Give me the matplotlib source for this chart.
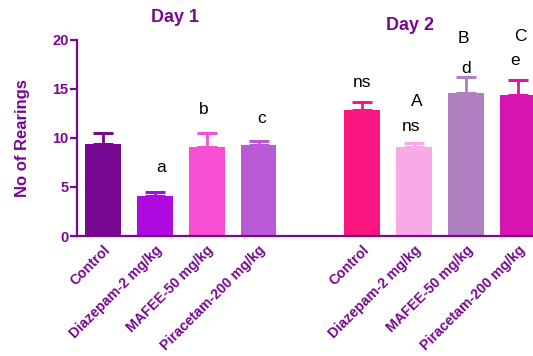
import matplotlib
matplotlib.use("Agg")
import matplotlib.pyplot as plt

# data
groups = ["Control", "Diazepam-2 mg/kg", "MAFEE-50 mg/kg", "Piracetam-200 mg/kg"]
day1_means = [9.4, 4.1, 9.1, 9.3]
day1_err = [1.1, 0.4, 1.4, 0.35]
day2_means = [12.9, 9.1, 14.6, 14.4]
day2_err = [0.8, 0.35, 1.6, 1.5]
day1_colors = ["#760891", "#AE0ADF", "#F74FD3", "#BA5AD6"]
day2_colors = ["#F8177F", "#F7AAE6", "#B180C0", "#D815B0"]
day1_marks = [("a", 1.13, 7.0), ("b", 1.94, 12.85), ("c", 3.06, 12.0)]
day2_marks = [("ns", 5.0, 15.7), ("A", 6.05, 13.7), ("ns", 5.93, 11.2),
              ("B", 6.95, 20.1), ("d", 7.0, 17.1), ("C", 8.05, 20.3), ("e", 7.95, 17.9)]

purple = "#760891"
plt.rcParams['font.family'] = ['Liberation Sans', 'DejaVu Sans']

fig = plt.figure(figsize=(5.33, 3.56), dpi=100)
ax = fig.add_axes([0.1445, 0.337, 0.8555, 0.551])

pos1 = [0, 1, 2, 3]
pos2 = [5, 6, 7, 8]
for x, m, e, c in zip(pos1 + pos2, day1_means + day2_means,
                      day1_err + day2_err, day1_colors + day2_colors):
    ax.bar(x, m, width=0.69, color=c, zorder=2)
    ax.errorbar(x, m, yerr=[[0], [e]], color=c, elinewidth=2, capsize=7,
                capthick=2.2, zorder=1)

for t, x, y in day1_marks + day2_marks:
    ax.text(x, y, t, ha="center", va="center", fontsize=12.5, color="black")

ax.set_xlim(-0.5, 8.29)
ax.set_ylim(0, 20)
ax.set_yticks([0, 5, 10, 15, 20])
ax.set_xticks(pos1 + pos2)
ax.set_xticklabels(groups + groups, rotation=45, ha="right", rotation_mode="anchor")

for lab in ax.get_xticklabels():
    lab.set_fontweight("bold")
    lab.set_color(purple)
    lab.set_fontsize(10.2)
for lab in ax.get_yticklabels():
    lab.set_fontweight("bold")
    lab.set_color(purple)
    lab.set_fontsize(10.5)

ax.tick_params(axis="x", length=0, pad=5)
ax.tick_params(axis="y", length=5, width=1.6, color=purple, pad=1)
for s in ["top", "right"]:
    ax.spines[s].set_visible(False)
for s in ["left", "bottom"]:
    ax.spines[s].set_color(purple)
    ax.spines[s].set_linewidth(1.6)
ax.spines["bottom"].set_zorder(3)

ax.set_ylabel("No of Rearings", fontsize=12, fontweight="bold", color=purple, labelpad=16)

fig.text(175 / 533, 1 - 18 / 356, "Day 1", ha="center", va="center",
         fontsize=13, fontweight="bold", color=purple)
fig.text(410 / 533, 1 - 25 / 356, "Day 2", ha="center", va="center",
         fontsize=13, fontweight="bold", color=purple)

fig.savefig("out.png", dpi=100)
